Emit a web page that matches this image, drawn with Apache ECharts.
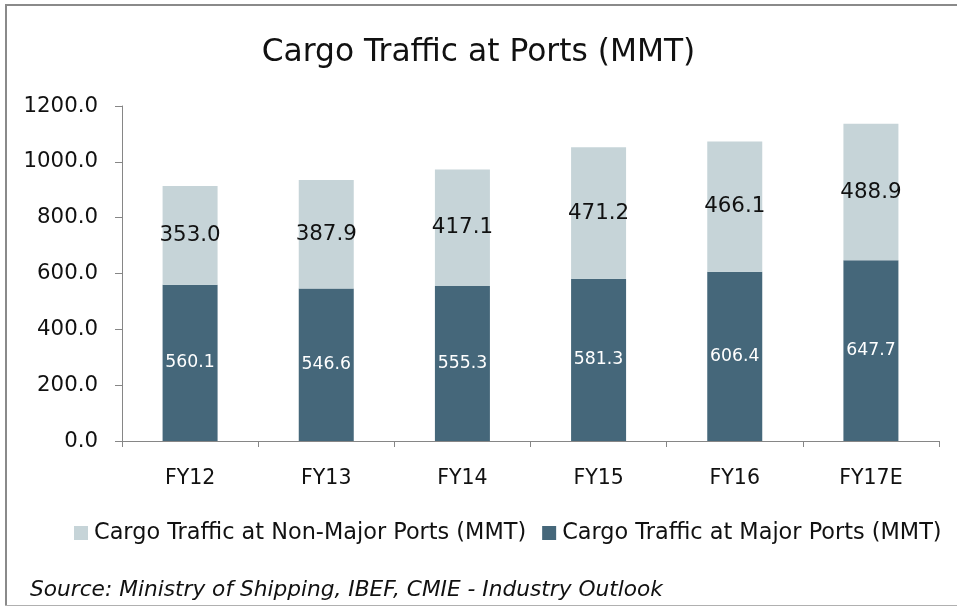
<!DOCTYPE html>
<html>
<head>
<meta charset="utf-8">
<title>Cargo Traffic at Ports</title>
<script src="https://cdn.jsdelivr.net/npm/echarts@6/dist/echarts.min.js"></script>
<style>
  html, body { margin: 0; padding: 0; background: #fff; }
  #chart { width: 957px; height: 607px; }
</style>
</head>
<body>
<div id="chart"></div>
<script>
// data
var years = ["FY12", "FY13", "FY14", "FY15", "FY16", "FY17E"];
var majorPorts = [560.1, 546.6, 555.3, 581.3, 606.4, 647.7];
var nonMajorPorts = [353.0, 387.9, 417.1, 471.2, 466.1, 488.9];
var yTicks = [0, 200, 400, 600, 800, 1000, 1200];

var FONT = "DejaVu Sans";
var myChart = echarts.init(document.getElementById("chart"), null, { renderer: "canvas" });

var option = {
  backgroundColor: "#fff",
  animation: false,
  textStyle: { fontFamily: FONT },
  title: {
    text: "Cargo Traffic at Ports (MMT)",
    left: "center",
    top: 32,
    textStyle: { fontFamily: FONT, fontSize: 31.3, fontWeight: "normal", color: "#111" }
  },
  legend: {
    data: ["Cargo Traffic at Non-Major Ports (MMT)", "Cargo Traffic at Major Ports (MMT)"],
    left: 69,
    top: 517,
    icon: "rect",
    itemWidth: 14,
    itemHeight: 14,
    itemGap: 16,
    textStyle: { fontFamily: FONT, fontSize: 22.4, color: "#111", padding: [0, 0, 0, 1] }
  },
  grid: { left: 122, right: 18, top: 106, bottom: 166 },
  xAxis: {
    type: "category",
    data: years,
    axisLine: { show: true, lineStyle: { color: "#868686", width: 1 } },
    axisTick: { show: true, length: 6, lineStyle: { color: "#868686" } },
    axisLabel: { fontFamily: FONT, fontSize: 20.5, color: "#111", margin: 27 }
  },
  yAxis: {
    type: "value",
    min: yTicks[0],
    max: yTicks[yTicks.length - 1],
    interval: yTicks[1] - yTicks[0],
    axisLine: { show: true, lineStyle: { color: "#868686", width: 1 } },
    axisTick: { show: true, length: 7, lineStyle: { color: "#868686" } },
    splitLine: { show: false },
    axisLabel: {
      fontFamily: FONT, fontSize: 21.3, color: "#111", margin: 24,
      formatter: function (v) { return v.toFixed(1); }
    }
  },
  series: [
    {
      name: "Cargo Traffic at Major Ports (MMT)",
      type: "bar",
      stack: "total",
      barWidth: 55,
      data: majorPorts,
      itemStyle: { color: "#45677a" },
      label: {
        show: true, position: "inside", color: "#fff",
        fontFamily: FONT, fontSize: 17.3,
        formatter: function (p) { return p.value.toFixed(1); }
      }
    },
    {
      name: "Cargo Traffic at Non-Major Ports (MMT)",
      type: "bar",
      stack: "total",
      barWidth: 55,
      data: nonMajorPorts,
      itemStyle: { color: "#c6d4d8" },
      label: {
        show: true, position: "inside", color: "#111",
        fontFamily: FONT, fontSize: 21.4,
        formatter: function (p) { return p.value.toFixed(1); }
      }
    }
  ],
  graphic: [
    // frame round the chart
    { type: "line", shape: { x1: 5, y1: 5, x2: 957, y2: 5 }, style: { stroke: "#8a8a8a", lineWidth: 2 } },
    { type: "line", shape: { x1: 6, y1: 4, x2: 6, y2: 605 }, style: { stroke: "#8a8a8a", lineWidth: 2 } },
    { type: "line", shape: { x1: 5, y1: 605.5, x2: 957, y2: 605.5 }, style: { stroke: "#b0b0b0", lineWidth: 1 } },
    {
      type: "text", left: 30, top: 579,
      style: {
        text: "Source: Ministry of Shipping, IBEF, CMIE - Industry Outlook",
        font: "italic 21.7px 'DejaVu Sans'", fill: "#111"
      }
    }
  ]
};

myChart.setOption(option);
</script>
</body>
</html>
